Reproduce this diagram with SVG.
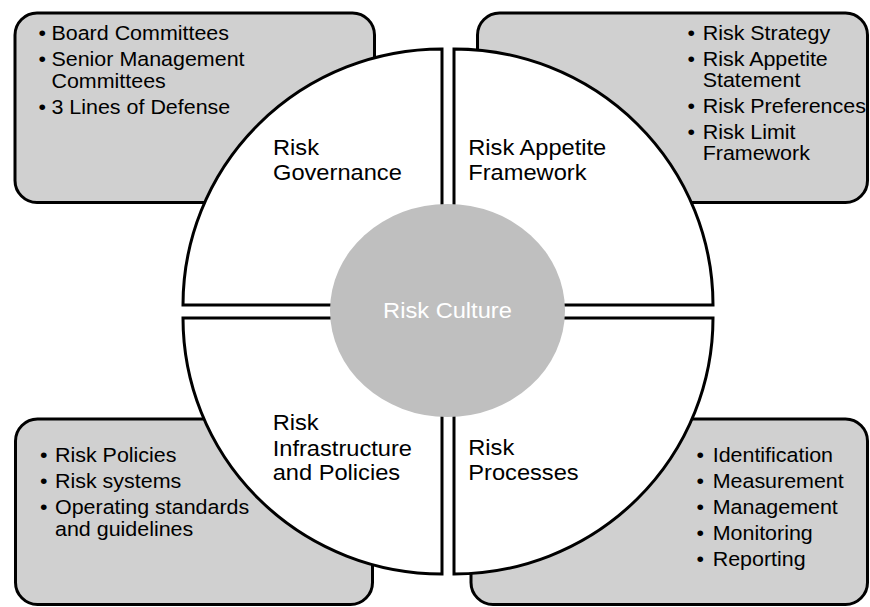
<svg xmlns="http://www.w3.org/2000/svg" width="870" height="607" viewBox="0 0 870 607">
<style>
.box{fill:#d0d0d0;stroke:#000;stroke-width:3}
.quad{fill:#fff;stroke:#000;stroke-width:3;stroke-linejoin:miter}
.b{font-family:"Liberation Sans",Arial,sans-serif;font-size:19.5px;fill:#000}
.q{font-family:"Liberation Sans",Arial,sans-serif;font-size:21.5px;fill:#000}
.c{font-family:"Liberation Sans",Arial,sans-serif;font-size:21.5px;fill:#fff;text-anchor:middle}
</style>
<rect width="870" height="607" fill="#fff"/>
<g id="box-governance">
<rect class="box" x="15" y="13" width="359.5" height="189.5" rx="22"/>
<text class="b" transform="scale(1.1 1)"><tspan x="35" y="40.5">•</tspan><tspan x="46.8" y="40.5">Board Committees</tspan><tspan x="35" y="66.5">•</tspan><tspan x="46.8" y="66.5">Senior Management</tspan><tspan x="46.8" y="88">Committees</tspan><tspan x="35" y="114">•</tspan><tspan x="46.8" y="114">3 Lines of Defense</tspan></text>
</g>
<g id="box-appetite">
<rect class="box" x="477.5" y="13" width="390" height="189.5" rx="22"/>
<text class="b" transform="scale(1.1 1)"><tspan x="625" y="40.5">•</tspan><tspan x="638.8" y="40.5">Risk Strategy</tspan><tspan x="625" y="66">•</tspan><tspan x="638.8" y="66">Risk Appetite</tspan><tspan x="638.8" y="87.5">Statement</tspan><tspan x="625" y="113.5">•</tspan><tspan x="638.8" y="113.5">Risk Preferences</tspan><tspan x="625" y="139">•</tspan><tspan x="638.8" y="139">Risk Limit</tspan><tspan x="638.8" y="160.5">Framework</tspan></text>
</g>
<g id="box-infrastructure">
<rect class="box" x="15.5" y="419" width="357" height="185.5" rx="22"/>
<text class="b" transform="scale(1.1 1)"><tspan x="36.4" y="462.5">•</tspan><tspan x="50" y="462.5">Risk Policies</tspan><tspan x="36.4" y="488.5">•</tspan><tspan x="50" y="488.5">Risk systems</tspan><tspan x="36.4" y="514.5">•</tspan><tspan x="50" y="514.5">Operating standards</tspan><tspan x="50" y="536">and guidelines</tspan></text>
</g>
<g id="box-processes">
<rect class="box" x="471" y="419" width="396.5" height="185.5" rx="22"/>
<text class="b" transform="scale(1.1 1)"><tspan x="633.2" y="462.5">•</tspan><tspan x="647.9" y="462.5">Identification</tspan><tspan x="633.2" y="488.5">•</tspan><tspan x="647.9" y="488.5">Measurement</tspan><tspan x="633.2" y="514.5">•</tspan><tspan x="647.9" y="514.5">Management</tspan><tspan x="633.2" y="540">•</tspan><tspan x="647.9" y="540">Monitoring</tspan><tspan x="633.2" y="566">•</tspan><tspan x="647.9" y="566">Reporting</tspan></text>
</g>
<g id="risk-governance">
<path class="quad" d="M442 305 L183 305 A259 256 0 0 1 442 49 Z"/>
<text class="q" transform="scale(1.1 1)"><tspan x="248.2" y="155">Risk</tspan><tspan x="248.2" y="180">Governance</tspan></text>
</g>
<g id="risk-appetite-framework">
<path class="quad" d="M454 305 L454 49 A259 256 0 0 1 713 305 Z"/>
<text class="q" transform="scale(1.1 1)"><tspan x="425.7" y="155">Risk Appetite</tspan><tspan x="425.7" y="180">Framework</tspan></text>
</g>
<g id="risk-infrastructure">
<path class="quad" d="M442 318 L442 574 A259 256 0 0 1 183 318 Z"/>
<text class="q" transform="scale(1.1 1)"><tspan x="247.9" y="430.5">Risk</tspan><tspan x="247.9" y="456">Infrastructure</tspan><tspan x="247.9" y="480.5">and Policies</tspan></text>
</g>
<g id="risk-processes">
<path class="quad" d="M454 318 L713 318 A259 256 0 0 1 454 574 Z"/>
<text class="q" transform="scale(1.1 1)"><tspan x="425.7" y="455.5">Risk</tspan><tspan x="425.7" y="480.5">Processes</tspan></text>
</g>
<g id="risk-culture">
<ellipse cx="447.5" cy="310.5" rx="117.5" ry="106.5" fill="#bfbfbf"/>
<text class="c" transform="scale(1.1 1)" x="406.8" y="318">Risk Culture</text>
</g>
<g id="connectors"></g>
</svg>
